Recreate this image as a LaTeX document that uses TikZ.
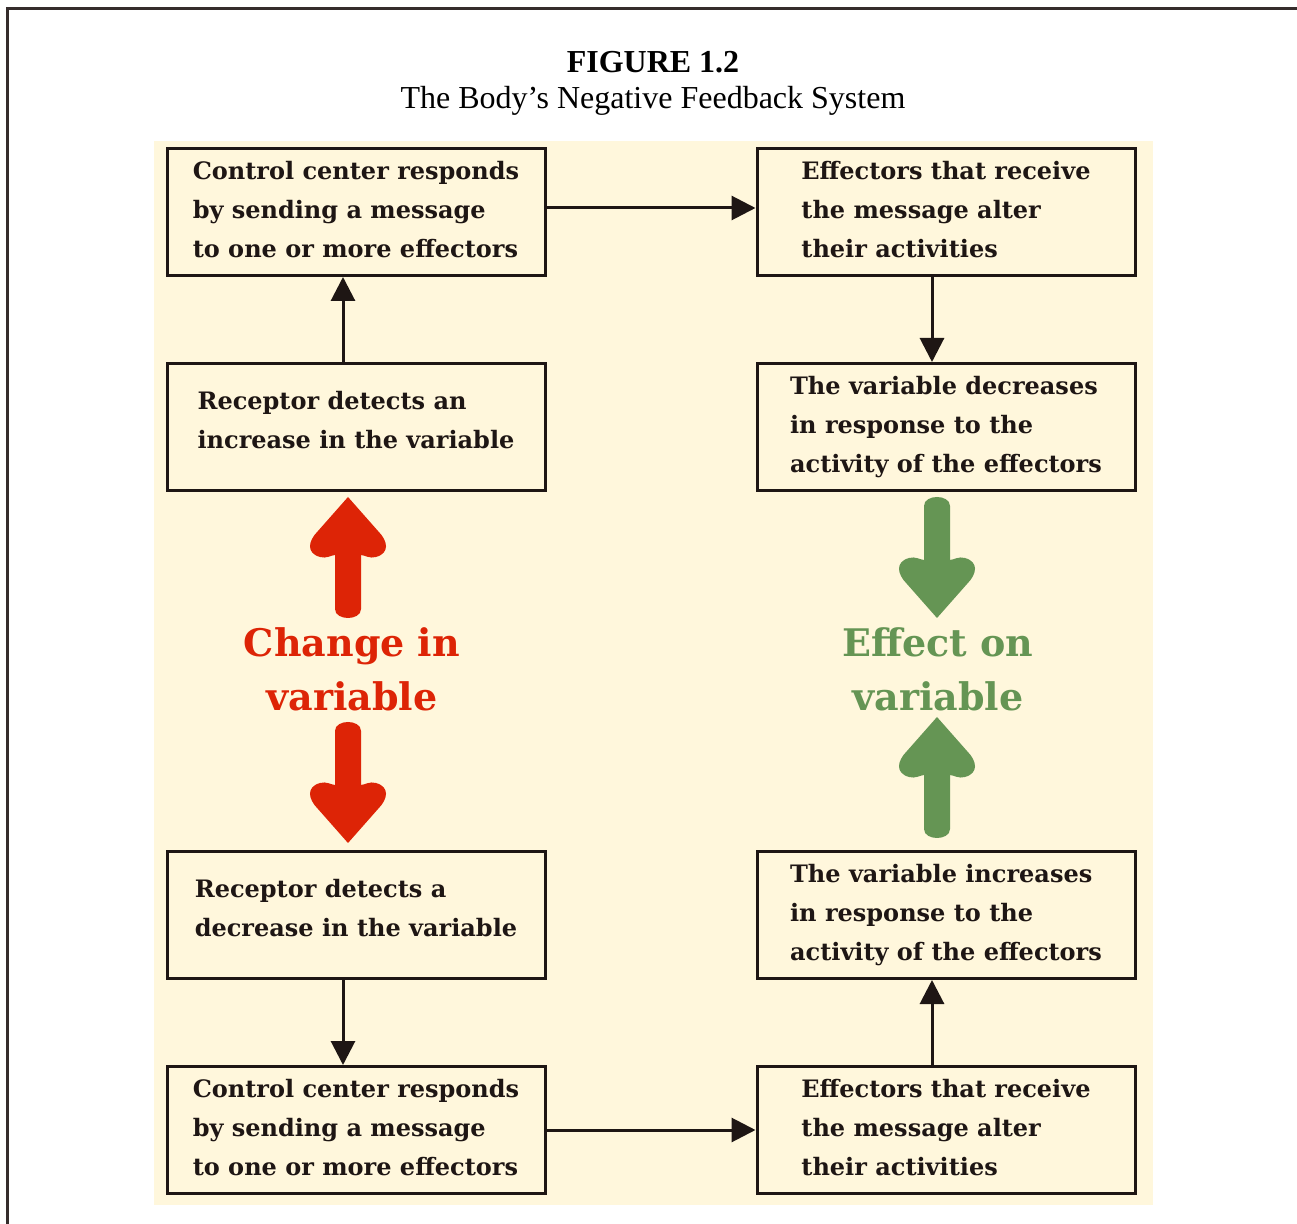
\documentclass[tikz,border=0pt]{standalone}
\usepackage{fontspec}
\setmainfont{Liberation Serif}
\newfontfamily\slabfont{DejaVu Serif}
\usetikzlibrary{arrows.meta,positioning}
\definecolor{cream}{RGB}{255,247,220}
\definecolor{changered}{RGB}{221,36,6}
\definecolor{effectgreen}{RGB}{101,149,84}
\definecolor{ink}{RGB}{30,22,20}

\begin{document}
\begin{tikzpicture}[x=0.5pt,y=-0.5pt,
  stepbox/.style={draw=ink,line width=1.5pt,minimum width=189pt,minimum height=63.5pt,inner sep=0pt,text depth=3pt,align=left,text=ink,font=\slabfont\bfseries\fontsize{12}{19.5}\selectfont},
  shortbox/.style={stepbox,text depth=7pt},
  edge/.style={draw=ink,line width=1.5pt,-{Triangle[length=12pt,width=12pt]}},
  biglabel/.style={align=center,font=\slabfont\bfseries\fontsize{19}{27}\selectfont},
  heart/.pic={\fill[#1] (0,0) -- (30,34) .. controls (40,44) and (42,56) .. (28,60) .. controls (22,62) and (16,58) .. (13,58) -- (13,112) .. controls (13,124) and (-13,124) .. (-13,112) -- (-13,58) .. controls (-16,58) and (-22,62) .. (-28,60) .. controls (-42,56) and (-40,44) .. (-30,34) -- cycle;}]
\useasboundingbox (0,0) rectangle (1297,1224);
\draw[line width=1.5pt,draw=ink!90] (7,1260) |- (1320,9);
\fill[cream] (154,141) rectangle (1153,1205);

\node (fig) at (653,62) {\fontsize{16}{19}\selectfont\bfseries FIGURE 1.2};
\node (subtitle) at (653,101) {\fontsize{16}{19}\selectfont The Body’s Negative Feedback System};

\node (ctrlup)[stepbox] at (356,212) {Control center responds\\by sending a message\\to one or more effectors};
\node (effup)[stepbox] at (946,212) {Effectors that receive\\the message alter\\their activities};
\node (recup)[shortbox] at (356,427) {Receptor detects an\\increase in the variable};
\node (decr)[stepbox] at (946,427) {The variable decreases\\in response to the\\activity of the effectors};
\node (recdown)[shortbox] at (356,915) {Receptor detects a\\decrease in the variable};
\node (incr)[stepbox] at (946,915) {The variable increases\\in response to the\\activity of the effectors};
\node (ctrldown)[stepbox] at (356,1130) {Control center responds\\by sending a message\\to one or more effectors};
\node (effdown)[stepbox] at (946,1130) {Effectors that receive\\the message alter\\their activities};

\node (change)[biglabel,text=changered] at (352,669) {Change in\\variable};
\node (effect)[biglabel,text=effectgreen] at (938,669) {Effect on\\variable};

\pic at (348,497) {heart=changered};
\pic[rotate=180] at (348,843) {heart=changered};
\pic[rotate=180] at (937,618) {heart=effectgreen};
\pic at (937,717) {heart=effectgreen};

\draw [edge] ([xshift=-6.5pt]recup.north) to ([xshift=-6.5pt]ctrlup.south);
\draw [edge] ([yshift=2pt]ctrlup.east) to ([yshift=2pt]effup.west);
\draw [edge] ([xshift=-7pt]effup.south) to ([xshift=-7pt]decr.north);
\draw [edge] ([xshift=-6.5pt]recdown.south) to ([xshift=-6.5pt]ctrldown.north);
\draw [edge] (ctrldown.east) to (effdown.west);
\draw [edge] ([xshift=-7pt]effdown.north) to ([xshift=-7pt]incr.south);
\end{tikzpicture}
\end{document}
